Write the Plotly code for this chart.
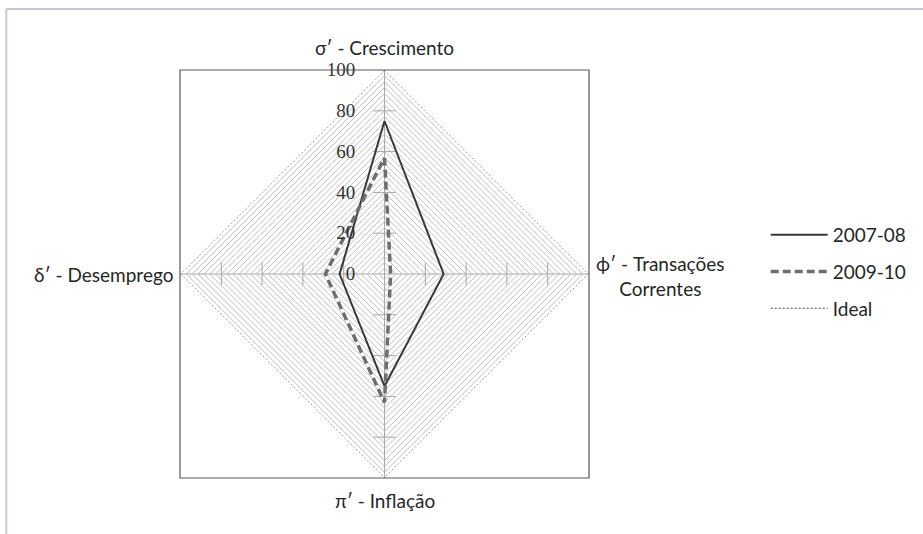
import plotly.graph_objects as go

# Data
categories = ["σ′ - Crescimento", "ϕ′ - Transações<br>Correntes", "π′ - Inflação", "δ′ - Desemprego"]
serie_2007_08 = [75, 29, 55, 22]
serie_2009_10 = [57, 3, 63, 29]
ideal = [100, 100, 100, 100]
major_ticks = [20, 40, 60, 80]
minor_per_major = 7  # light gridlines between two labelled values

FONT = "Lato"
W, H = 923, 534
M = dict(l=180, r=331, t=70, b=56)
PW, PH = W - M["l"] - M["r"], H - M["t"] - M["b"]


def px2paper(x=None, y=None):
    """Convert pixel coordinates to paper coordinates"""
    if x is not None:
        return (x - M["l"]) / PW
    return (H - M["b"] - y) / PH


def closed(vals):
    return list(vals) + [vals[0]]


fig = go.Figure()

# cross-shaped tick marks on every axis
vert = [categories[0], categories[2]]
horiz = [categories[1], categories[3]]
fig.add_trace(go.Scatterpolar(
    r=[t for _ in vert for t in major_ticks],
    theta=[c for c in vert for _ in major_ticks],
    mode="markers", showlegend=False, hoverinfo="skip",
    marker=dict(symbol="line-ew", size=16, line=dict(color="#a6a6a6", width=1))
))
fig.add_trace(go.Scatterpolar(
    r=[t for _ in horiz for t in major_ticks],
    theta=[c for c in horiz for _ in major_ticks],
    mode="markers", showlegend=False, hoverinfo="skip",
    marker=dict(symbol="line-ns", size=16, line=dict(color="#a6a6a6", width=1))
))

fig.add_trace(go.Scatterpolar(
    r=closed(ideal), theta=closed(categories), mode="lines", name="Ideal",
    legendgroup="c", legendrank=3,
    line=dict(color="#404040", width=1, dash="2px,2px")
))
fig.add_trace(go.Scatterpolar(
    r=closed(serie_2007_08), theta=closed(categories), mode="lines", name="2007-08",
    legendgroup="a", legendrank=1,
    line=dict(color="#3a3a3a", width=2)
))
fig.add_trace(go.Scatterpolar(
    r=closed(serie_2009_10), theta=closed(categories), mode="lines", name="2009-10",
    legendgroup="b", legendrank=2,
    line=dict(color="#6e6e6e", width=3.5, dash="8px,4px")
))

n_grid = 5 * minor_per_major
grid_vals = [100 * i / n_grid for i in range(n_grid + 1)]
grid_text = [str(round(v)) if i % minor_per_major == 0 else "" for i, v in enumerate(grid_vals)]

fig.update_layout(
    width=W, height=H,
    margin=M,
    paper_bgcolor="white",
    font=dict(family=FONT, size=19, color="#262626"),
    polar=dict(
        bgcolor="white",
        gridshape="linear",
        radialaxis=dict(
            range=[0, 100], angle=90, side="counterclockwise",
            tickvals=grid_vals, ticktext=grid_text,
            ticks="outside", ticklen=22, tickcolor="rgba(0,0,0,0)",
            tickangle=90,
            tickfont=dict(family="Liberation Serif", size=19, color="#333333"),
            showline=False, gridcolor="#c0c0c0", gridwidth=1,
        ),
        angularaxis=dict(
            type="category", categoryarray=categories,
            direction="clockwise", rotation=90,
            showticklabels=False, ticks="", showline=False,
            gridcolor="#a6a6a6", gridwidth=1,
        ),
    ),
    legend=dict(
        x=px2paper(x=770), y=px2paper(y=216), xanchor="left", yanchor="top",
        traceorder="grouped", tracegroupgap=9, itemwidth=57,
        font=dict(family=FONT, size=19, color="#262626"),
        bgcolor="rgba(0,0,0,0)",
    ),
    shapes=[
        # plot-area frame
        dict(type="rect", xref="paper", yref="paper", x0=0, x1=1, y0=0, y1=1,
             line=dict(color="#595959", width=1.2)),
        # outer chart border (top and left edges visible)
        dict(type="line", xref="paper", yref="paper",
             x0=px2paper(x=5), x1=px2paper(x=930), y0=px2paper(y=9), y1=px2paper(y=9),
             line=dict(color="#c8c8d0", width=2)),
        dict(type="line", xref="paper", yref="paper",
             x0=px2paper(x=5), x1=px2paper(x=5), y0=px2paper(y=9), y1=px2paper(y=540),
             line=dict(color="#c8c8d0", width=2)),
    ],
    annotations=[
        dict(text=categories[0], x=0.5, y=px2paper(y=48), xref="paper", yref="paper",
             xanchor="center", yanchor="middle", showarrow=False),
        dict(text=categories[1], x=px2paper(x=597), y=px2paper(y=276), xref="paper", yref="paper",
             xanchor="left", yanchor="middle", align="center", showarrow=False),
        dict(text=categories[2], x=0.5, y=px2paper(y=500), xref="paper", yref="paper",
             xanchor="center", yanchor="middle", showarrow=False),
        dict(text=categories[3], x=px2paper(x=175), y=0.5, xref="paper", yref="paper",
             xanchor="right", yanchor="middle", showarrow=False),
    ],
)

# drop the page's default body margin so the figure sits at the window origin
fig.write_html("out.html", config={"displayModeBar": False},
               post_script="document.body.style.margin='0';")
